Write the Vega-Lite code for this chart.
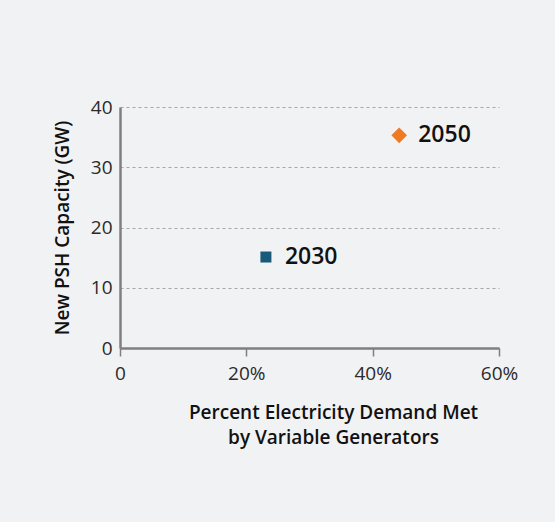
{
  "$schema": "https://vega.github.io/schema/vega-lite/v6.json",
  "width": 379,
  "height": 241,
  "autosize": "none",
  "padding": {"left": 120, "top": 107, "right": 56, "bottom": 174},
  "background": "#f1f2f4",
  "config": {
    "view": {"stroke": null},
    "font": "Open Sans"
  },
  "data": {
    "values": [
      {"pct": 23.1, "gw": 15.1, "year": "2030"},
      {"pct": 44.2, "gw": 35.3, "year": "2050"}
    ]
  },
  "layer": [
    {
      "mark": {"type": "point", "filled": true, "opacity": 1},
      "encoding": {
        "x": {
          "field": "pct", "type": "quantitative",
          "scale": {"domain": [0, 60], "nice": false},
          "axis": {
            "values": [0, 20, 40, 60],
            "labelExpr": "datum.value == 0 ? '0' : datum.value + '%'",
            "grid": false,
            "domainColor": "#7f7f7f", "domainWidth": 2.5,
            "tickColor": "#7f7f7f", "tickWidth": 1.5, "tickSize": 8,
            "labelFont": "Open Sans", "labelFontSize": 19, "labelFontWeight": 400, "labelColor": "#2a2a2a",
            "labelPadding": 8, "labelFlush": false,
            "title": ["Percent Electricity Demand Met", "by Variable Generators"],
            "titleFont": "Open Sans", "titleFontSize": 19, "titleFontWeight": 600,
            "titleColor": "#111111", "titleLineHeight": 25,
            "titleX": 213, "titleY": 55, "titleAlign": "center", "titleBaseline": "top"
          }
        },
        "y": {
          "field": "gw", "type": "quantitative",
          "scale": {"domain": [0, 40], "nice": false},
          "axis": {
            "values": [0, 10, 20, 30, 40],
            "grid": true, "gridDash": [3, 3], "gridColor": "#a6a6a6", "gridWidth": 1,
            "domainColor": "#7f7f7f", "domainWidth": 2.5,
            "ticks": false,
            "labelFont": "Open Sans", "labelFontSize": 19, "labelFontWeight": 400, "labelColor": "#2a2a2a",
            "labelPadding": 8,
            "title": "New PSH Capacity (GW)",
            "titleFont": "Open Sans", "titleFontSize": 19, "titleFontWeight": 600,
            "titleColor": "#111111", "titlePadding": 18
          }
        },
        "color": {
          "field": "year", "type": "nominal",
          "scale": {"domain": ["2030", "2050"], "range": ["#175a7a", "#f07a22"]},
          "legend": null
        },
        "shape": {
          "field": "year", "type": "nominal",
          "scale": {"domain": ["2030", "2050"], "range": ["square", "diamond"]},
          "legend": null
        },
        "size": {
          "field": "year", "type": "nominal",
          "scale": {"domain": ["2030", "2050"], "range": [121, 245]},
          "legend": null
        }
      }
    },
    {
      "mark": {"type": "text", "align": "left", "baseline": "middle", "dx": 19, "fontSize": 23, "fontWeight": 600, "font": "Open Sans", "color": "#111111"},
      "encoding": {
        "x": {"field": "pct", "type": "quantitative"},
        "y": {"field": "gw", "type": "quantitative"},
        "text": {"field": "year"}
      }
    }
  ]
}
